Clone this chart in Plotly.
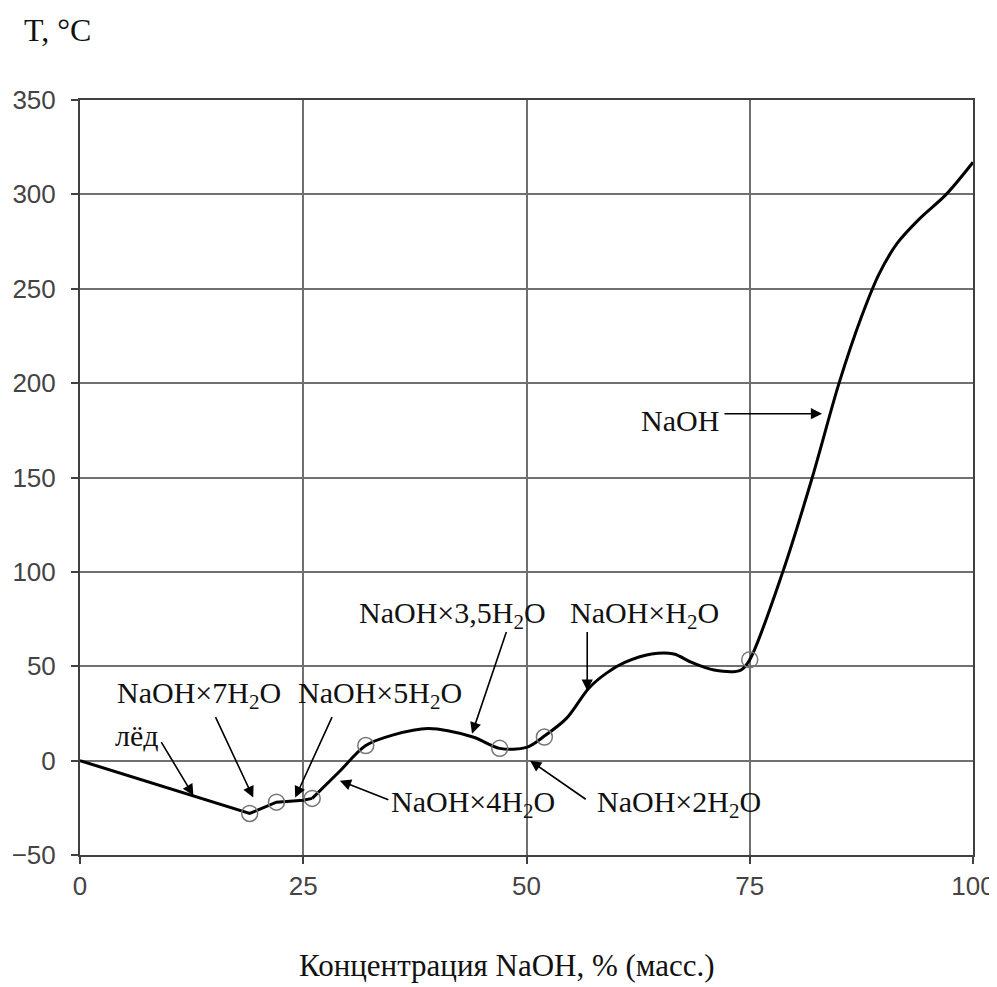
import plotly.graph_objects as go

# Curve: NaOH concentration (% mass) vs T (°C)
conc = [0, 19, 22, 25, 26, 29, 32, 35, 39, 44, 47, 50, 52, 54.5, 57, 59, 61, 64, 66.5,
        68.5, 71, 74, 75, 78.7, 82, 85, 87.5, 89.5, 91.5, 94, 97, 100]
temp = [0, -28, -22, -21, -20, -6, 8, 13.5, 17, 12.5, 6.5, 7, 13, 22.5, 38.5, 46.5, 52,
        56.5, 56.5, 52, 48, 48, 53.5, 100, 150, 200, 235, 258, 274, 287, 300, 317]
split = 4  # straight part up to index 4, smooth afterwards

# Open circle points (eutectic / transition points)
pt_x = [19, 22, 26, 32, 47, 52, 75]
pt_y = [-28, -22, -20, 8, 6.5, 12.5, 53.5]

x_ticks = [0, 25, 50, 75, 100]
y_ticks = [-50, 0, 50, 100, 150, 200, 250, 300, 350]

# Labels: text, text x, text y, arrow tail x, tail y, head x, head y
labels = ["лёд", "NaOH×7H<sub>2</sub>O", "NaOH×5H<sub>2</sub>O", "NaOH×4H<sub>2</sub>O",
          "NaOH×3,5H<sub>2</sub>O", "NaOH×2H<sub>2</sub>O", "NaOH×H<sub>2</sub>O", "NaOH"]
lab_x = [6.4, 13.3, 33.6, 44.0, 41.7, 67.1, 63.2, 67.2]
lab_y = [13.5, 35, 35, -23, 77, -23, 77, 180]
tail_x = [9.0, 15.1, 28.3, 34.7, 47.8, 56.8, 56.8, 72.0]
tail_y = [10.6, 23.8, 23.8, -21, 69, -21, 69, 183.8]
head_x = [12.7, 19.4, 24.1, 29.1, 43.9, 50.4, 56.8, 83.1]
head_y = [-18.5, -19.6, -19.6, -10.6, 14.3, 0, 37, 183.8]

fig = go.Figure()
fig.add_trace(go.Scatter(x=conc[:split + 1], y=temp[:split + 1], mode="lines",
                         line=dict(color="black", width=3), hoverinfo="skip"))
fig.add_trace(go.Scatter(x=conc[split:], y=temp[split:], mode="lines",
                         line=dict(color="black", width=3, shape="spline", smoothing=0.9),
                         hoverinfo="skip"))
fig.add_trace(go.Scatter(x=pt_x, y=pt_y, mode="markers",
                         marker=dict(symbol="circle-open", size=16, color="#777",
                                     line=dict(width=1.5, color="#777"))))

serif = "Liberation Serif, Times New Roman, serif"
for t, lx, ly, tx, ty, hx, hy in zip(labels, lab_x, lab_y, tail_x, tail_y, head_x, head_y):
    fig.add_annotation(x=hx, y=hy, ax=tx, ay=ty, axref="x", ayref="y", xref="x", yref="y",
                       text="", showarrow=True, arrowhead=2, arrowsize=1.4, arrowwidth=1.6,
                       arrowcolor="black", standoff=0, startstandoff=0)
    fig.add_annotation(x=lx, y=ly, xref="x", yref="y", text=t, showarrow=False,
                       font=dict(family=serif, size=30, color="#111"))

fig.add_annotation(x=-0.065, y=1.093, xref="paper", yref="paper", text="T, °C",
                   xanchor="left", yanchor="middle", showarrow=False,
                   font=dict(family=serif, size=32, color="#111"))
fig.add_annotation(x=0.478, y=-0.147, xref="paper", yref="paper",
                   text="Концентрация NaOH, % (масс.)", xanchor="center", yanchor="middle",
                   showarrow=False, font=dict(family=serif, size=31, color="#111"))

axis_common = dict(showgrid=True, gridcolor="#707070", gridwidth=1.5, zeroline=False,
                   showline=True, linecolor="#404040", linewidth=2, mirror=True,
                   ticks="outside", ticklen=7, tickcolor="#404040", tickwidth=1.5,
                   tickfont=dict(family="Liberation Sans, Arial, sans-serif", size=26,
                                 color="#444"))
fig.update_xaxes(range=[0, 100], tickvals=x_ticks, **axis_common)
fig.update_yaxes(range=[-50, 350], tickvals=y_ticks, ticklabelstandoff=10, **axis_common)

# page body adds an 8px offset; margins compensate so the plot box sits at 80..973 x 100..855
fig.update_layout(width=989, height=979, showlegend=False,
                  margin=dict(l=72, r=24, t=92, b=132, autoexpand=False),
                  paper_bgcolor="white", plot_bgcolor="white")

fig.write_html("out.html")
